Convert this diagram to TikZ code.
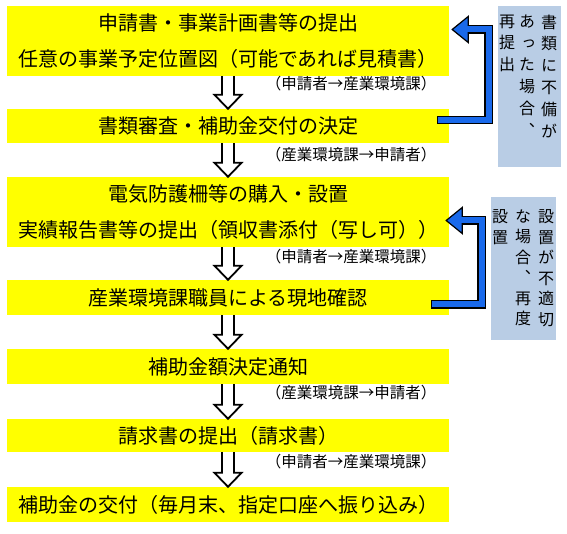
\documentclass[tikz,border=0pt]{standalone}
\usepackage{fontspec}
\newfontfamily\jp{Noto Sans CJK JP}
\newfontfamily\jpv[RawFeature=+vert]{Noto Sans CJK JP}
\usetikzlibrary{calc}

\definecolor{boxyellow}{RGB}{255,255,0}
\definecolor{sideblue}{RGB}{185,205,229}
\definecolor{arrblue}{RGB}{25,105,235}

\begin{document}
\begin{tikzpicture}[x=1pt, y=-1pt,
    stepbox/.style = {fill=boxyellow, minimum width=442pt, inner sep=0pt,
                      align=center, font=\jp\fontsize{20}{36}\selectfont},
    note/.style    = {inner sep=0pt, font=\jp\fontsize{15.5}{17}\selectfont},
    sidebox/.style = {fill=sideblue, inner sep=0pt},
    vcol/.style    = {anchor=north, inner sep=0pt, align=center,
                      font=\jpv\fontsize{16}{#1}\selectfont},
    hollow/.style  = {draw=black, fill=white, line width=1.8pt, line join=miter},
    fbout/.style   = {draw=black, line width=8.5pt, line join=miter},
    fbin/.style    = {draw=arrblue, line width=6pt, line join=miter},
    fbhead/.style  = {fill=arrblue, draw=black, line width=1.2pt, line join=miter}
]
    \useasboundingbox (0,0) rectangle (567,534);

    %-- steps ----------------------------------------------------------------
    \node[stepbox, minimum height=70pt] (b1) at (228,41)
        {申請書・事業計画書等の提出\\任意の事業予定位置図（可能であれば見積書）};
    \node[stepbox, minimum height=34pt] (b2) at (228,126)
        {書類審査・補助金交付の決定};
    \node[stepbox, minimum height=70pt] (b3) at (228,212)
        {電気防護柵等の購入・設置\\実績報告書等の提出（領収書添付（写し可））};
    \node[stepbox, minimum height=35pt] (b4) at (228,297.5)
        {産業環境課職員による現地確認};
    \node[stepbox, minimum height=35pt] (b5) at (228,366.5)
        {補助金額決定通知};
    \node[stepbox, minimum height=33pt] (b6) at (228,435.5)
        {請求書の提出（請求書）};
    \node[stepbox, minimum height=35pt] (b7) at (228,504.5)
        {補助金の交付（毎月末、指定口座へ振り込み）};

    %-- who sends what -------------------------------------------------------
    \node[note] (n1) at (351,84)  {（申請者→産業環境課）};
    \node[note] (n2) at (351,155) {（産業環境課→申請者）};
    \node[note] (n3) at (351,257) {（申請者→産業環境課）};
    \node[note] (n4) at (351,393) {（産業環境課→申請者）};
    \node[note] (n5) at (351,462) {（申請者→産業環境課）};

    %-- hollow arrows between the steps --------------------------------------
    \foreach \a/\b in {b1/b2,b2/b3,b3/b4,b4/b5,b5/b6,b6/b7}
        \filldraw[hollow] let \p1=(\a.south), \p2=(\b.north) in
            ({\x1-6pt},\y1) -- ({\x1-6pt},{\y2+14pt}) -- ({\x1-13.5pt},{\y2+14pt})
            -- (\x1,\y2) -- ({\x1+13.5pt},{\y2+14pt}) -- ({\x1+6pt},{\y2+14pt})
            -- ({\x1+6pt},\y1);

    %-- side notes (vertical text) -------------------------------------------
    \node[sidebox, minimum width=63pt, minimum height=161pt] (s1) at (529.5,86.5) {};
    \node[vcol=21.8pt] (s1c1) at (549,14.5) {書\\類\\に\\不\\備\\が};
    \node[vcol=21.8pt] (s1c2) at (527,14.5) {あ\\っ\\た\\場\\合\\︑};
    \node[vcol=21.8pt] (s1c3) at (507,14.5) {再\\提\\出};

    \node[sidebox, minimum width=65pt, minimum height=143pt] (s2) at (523.5,268.5) {};
    \node[vcol=20.5pt] (s2c1) at (546,209.5) {設\\置\\が\\不\\適\\切};
    \node[vcol=20.5pt] (s2c2) at (523,209.5) {な\\場\\合\\︑\\再\\度};
    \node[vcol=20.5pt] (s2c3) at (500,209.5) {設\\置};

    %-- blue return arrows ---------------------------------------------------
    \coordinate (r1s) at ([xshift=-12pt,yshift=6pt]b2.east);
    \coordinate (r1k) at (488.5,29.5);
    \coordinate (r1t) at ([xshift=3pt,yshift=11.5pt]b1.east);
    \coordinate (r1h) at ([xshift=16pt]r1t);

    \coordinate (r2s) at ([xshift=-18pt,yshift=-7pt]b4.east);
    \coordinate (r2k) at (481.5,220.5);
    \coordinate (r2t) at ([xshift=-3pt,yshift=-8.5pt]b3.east);
    \coordinate (r2h) at ([xshift=16pt]r2t);

    \foreach \r in {r1,r2}{
        \draw[fbout] (\r s) -| (\r k) -- (\r h);
        \filldraw[fbhead] (\r t) -- ([xshift=16pt,yshift=13pt]\r t)
            -- ([xshift=16pt,yshift=-13pt]\r t) -- cycle;
        \draw[fbin] ([xshift=1.25pt]\r s) -| (\r k) -- ([xshift=-2pt]\r h);
    }
\end{tikzpicture}
\end{document}
